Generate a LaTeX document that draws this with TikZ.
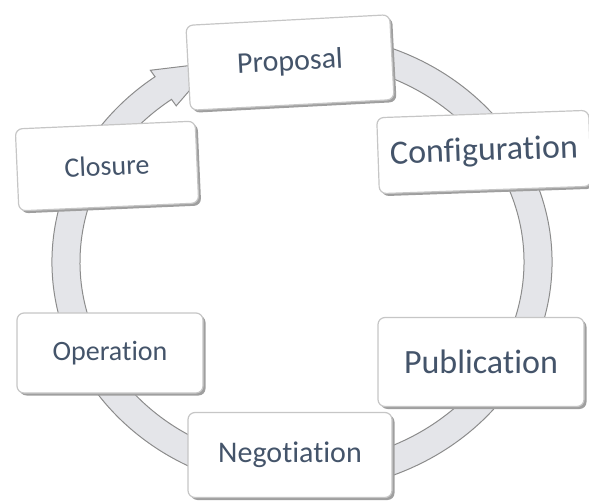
\documentclass[tikz,border=0pt]{standalone}
\usepackage{fontspec}
\setmainfont{Carlito}[Ligatures=NoCommon]
\usetikzlibrary{calc,shadows}
\definecolor{labelblue}{HTML}{44546A}
\definecolor{ringfill}{HTML}{E4E5E9}
\definecolor{ringedge}{HTML}{8C8C8C}

\begin{document}
\begin{tikzpicture}[x=1pt,y=1pt]
\tikzstyle{stage}=[draw=gray!45, fill=white, rounded corners=7pt, line width=1.2pt, text=labelblue, inner sep=0pt,
  drop shadow={shadow xshift=2.5pt, shadow yshift=-2.5pt, fill=gray!75, opacity=1}]
\useasboundingbox (0,0) rectangle (589,501);
\clip (0,0) rectangle (589,501);
\coordinate (c) at (302,239);
\filldraw [fill=ringfill, draw=ringedge, line width=1pt]
  ($(c)+(72:250 and 229)$) arc[start angle=72, end angle=-234, x radius=250, y radius=229]
  -- ($(c)+(126:258 and 237)$) -- ($(c)+(112:236 and 215)$) -- ($(c)+(126:214 and 193)$)
  -- ($(c)+(126:222 and 201)$) arc[start angle=-234, end angle=72, x radius=222, y radius=201] -- cycle;
\node [stage, minimum width=204, minimum height=85, rotate=3, font=\fontsize{30}{36}\selectfont] (proposal) at (290,438.5) {Proposal};
\node [stage, minimum width=212, minimum height=76, rotate=2, font=\fontsize{34}{40}\selectfont] (config) at (484,349) {Configuration};
\node [stage, minimum width=206, minimum height=89, font=\fontsize{34}{40}\selectfont] (publication) at (481,139) {Publication};
\node [stage, minimum width=204, minimum height=85, font=\fontsize{30}{36}\selectfont] (negotiation) at (290,46) {Negotiation};
\node [stage, minimum width=186, minimum height=80, font=\fontsize{28}{34}\selectfont] (operation) at (110,148) {Operation};
\node [stage, minimum width=180, minimum height=82, rotate=2.5, font=\fontsize{28}{34}\selectfont] (closure) at (107,335) {Closure};
\end{tikzpicture}
\end{document}
